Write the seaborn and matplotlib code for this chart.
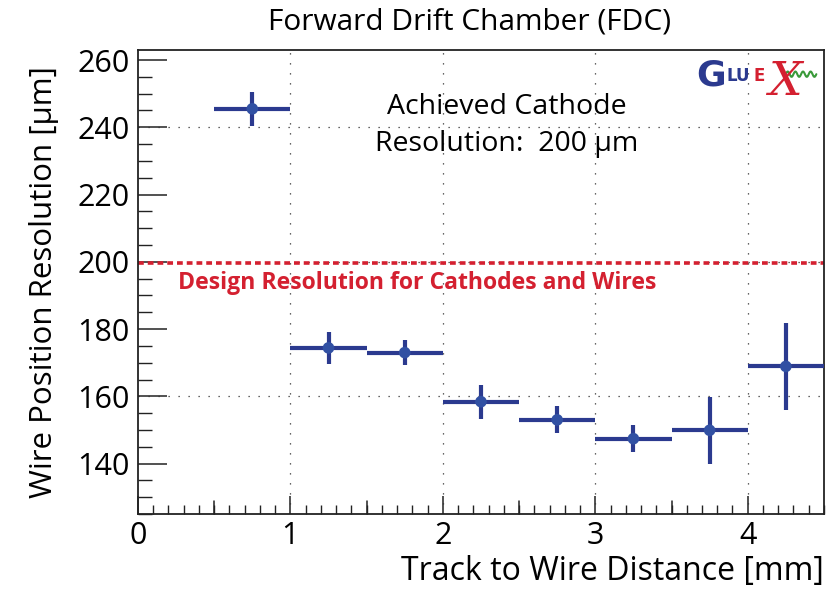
import numpy as np
import pandas as pd
import matplotlib
matplotlib.use("Agg")
import matplotlib.pyplot as plt
from matplotlib.ticker import MultipleLocator
import seaborn as sns

# Binned resolution measurements
bin_center = [0.75, 1.25, 1.75, 2.25, 2.75, 3.25, 3.75, 4.25]
bin_halfwidth = [0.25, 0.25, 0.25, 0.25, 0.25, 0.25, 0.25, 0.25]
resolution = [245.5, 174.4, 173.0, 158.4, 153.0, 147.4, 149.9, 168.9]
resolution_err = [5.0, 4.7, 3.6, 5.0, 4.0, 4.0, 10.0, 13.0]
design_resolution = 199.5
y_ticks = [140, 160, 180, 200, 220, 240, 260]
x_ticks = [0, 1, 2, 3, 4]

df = pd.DataFrame({"distance": bin_center, "resolution": resolution})

sns.set_theme(style="white")
plt.rcParams["font.family"] = ["Open Sans", "DejaVu Sans"]
plt.rcParams.update({"text.color": "black", "axes.labelcolor": "black",
                     "xtick.color": "#222222", "ytick.color": "#222222",
                     "xtick.labelcolor": "black", "ytick.labelcolor": "black"})

fig = plt.figure(figsize=(8.36, 5.90), dpi=100)
ax = fig.add_axes([0.165, 0.1288, 0.8206, 0.7865])

navy = "#2b3a8f"
red = "#d42030"

# Red dashed design line
ax.axhline(design_resolution, color=red, lw=2.6, ls=(0, (1.6, 1.1)), zorder=2)

# Dotted grid at selected positions
for gx in [1, 2, 3, 4]:
    ax.axvline(gx, color="#333333", lw=0.9, ls=(0, (1, 7)), zorder=1)
for gy in [160, 200, 240]:
    ax.axhline(gy, color="#333333", lw=0.9, ls=(0, (1, 7)), zorder=1)

ax.errorbar(bin_center, resolution, xerr=bin_halfwidth, yerr=resolution_err,
            fmt="none", ecolor=navy, elinewidth=3.0, capsize=0, zorder=3)
sns.scatterplot(data=df, x="distance", y="resolution", ax=ax, color="#3150a3",
                s=70, edgecolor="none", zorder=4, legend=False)

ax.set_xlim(0, 4.5)
ax.set_ylim(125, 263)
ax.set_xticks(x_ticks)
ax.set_yticks(y_ticks)
ax.xaxis.set_minor_locator(MultipleLocator(0.1))
ax.yaxis.set_minor_locator(MultipleLocator(5))
ax.tick_params(axis="both", which="both", direction="in", labelsize=22,
               top=False, right=False)
ax.tick_params(axis="x", which="major", length=13, width=1.1, bottom=True, pad=5)
ax.tick_params(axis="x", which="minor", length=6.5, width=1.0, bottom=True)
ax.tick_params(axis="y", which="major", length=21, width=1.1, left=True, pad=6)
ax.tick_params(axis="y", which="minor", length=10, width=1.0, left=True)
# medium ticks on the half-integers
for hx in [0.5, 1.5, 2.5, 3.5]:
    ax.plot([hx, hx], [125, 125 + 13 / 3.37], color="#222222", lw=1.1,
            zorder=5, clip_on=False)

for s in ax.spines.values():
    s.set_color("#222222")
    s.set_linewidth(1.3)

ax.set_xlabel("Track to Wire Distance [mm]", fontsize=23, loc="right", labelpad=3)
ax.set_ylabel("Wire Position Resolution [\u03bcm]", fontsize=22.5, loc="center", labelpad=13)
fig.text(0.562, 0.962, "Forward Drift Chamber (FDC)", fontsize=21.5, ha="center", va="center")

ax.text(2.42, 246, "Achieved Cathode", fontsize=20.5, ha="center", va="center")
ax.text(2.42, 235, "Resolution:  200 \u03bcm", fontsize=20.5, ha="center", va="center")
ax.text(0.26, 193.6, "Design Resolution for Cathodes and Wires", fontsize=16.6,
        fontweight="bold", color=red, ha="left", va="center")

# GlueX logo
ax.text(3.66, 255.3, "G", fontsize=26, fontweight="bold", color="#2b3a8f",
        ha="left", va="center", family=["DejaVu Sans"])
ax.text(3.86, 255.3, "LU", fontsize=12, fontweight="bold", color="#2b3a8f",
        ha="left", va="center", family=["DejaVu Sans"])
ax.text(4.035, 255.3, "E", fontsize=12, fontweight="bold", color=red,
        ha="left", va="center", family=["DejaVu Sans"])
ax.text(4.13, 253.5, "X", fontsize=34, style="italic", color=red,
        ha="left", va="center", family=["DejaVu Serif"])
wx = np.linspace(4.25, 4.45, 60)
ax.plot(wx, 255.8 + 0.8 * np.sin((wx - 4.25) * 2 * np.pi * 20), color="#3a9a3a", lw=1.5)

fig.savefig("out.png", dpi=100, facecolor="white")
